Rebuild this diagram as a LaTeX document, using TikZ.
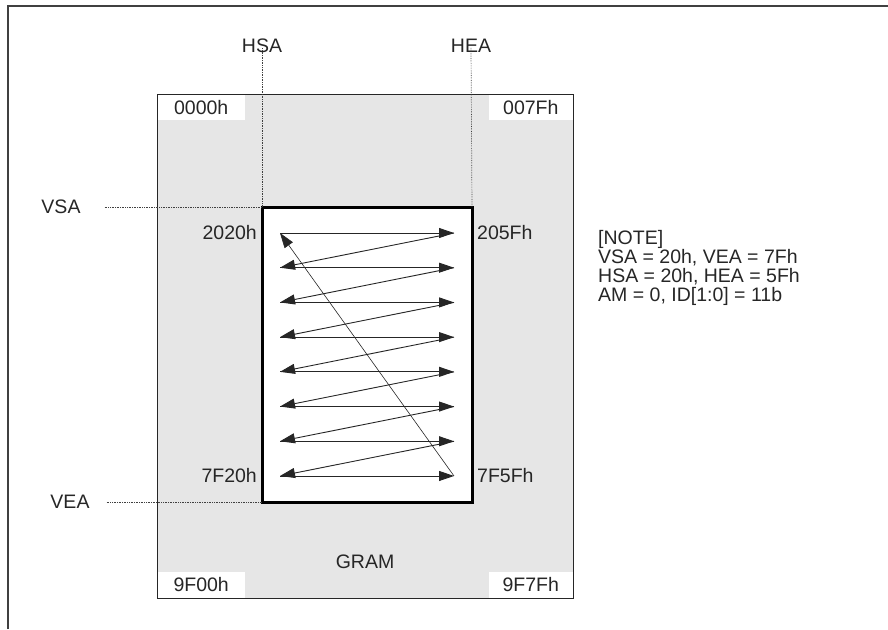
\documentclass[tikz,border=0pt]{standalone}
\usepackage{fontspec}
\setmainfont{Liberation Sans}
\usetikzlibrary{arrows.meta,positioning,calc}
\definecolor{gramgray}{RGB}{230,230,230}
\definecolor{ink}{RGB}{38,38,38}
\tikzset{
  lbl/.style   ={inner sep=0pt,text=ink,font=\fontsize{19.5}{19}\selectfont},
  corner/.style={lbl,fill=white,minimum height=26pt},
  guide/.style ={black!75,densely dotted,line width=0.7pt},
  ar/.style    ={-{Triangle[length=15pt,width=10pt]},line width=0.9pt,black!85},
}

\begin{document}
\begin{tikzpicture}[x=1pt,y=-1pt]
  \useasboundingbox (0,0) rectangle (888,629);
  \draw[line width=1.6pt,black!75] (8,629) -- (8,6) -- (888,6);
  % GRAM area
  \node[fill=gramgray,minimum width=416pt,minimum height=504pt,inner sep=0pt,outer sep=0pt,anchor=north west] (gram) at (157,94) {};
  \node[corner,minimum width=88pt,anchor=north west] (c0000) at (gram.north west) {0000h};
  \node[corner,minimum width=84pt,anchor=north east] (c007f) at (gram.north east) {007Fh};
  \node[corner,minimum width=88pt,anchor=south west] (c9f00) at (gram.south west) {9F00h};
  \node[corner,minimum width=84pt,anchor=south east] (c9f7f) at (gram.south east) {9F7Fh};
  \draw[line width=1pt,black!85] (gram.north west) rectangle (gram.south east);
  \node[lbl] (glbl) at (365,562) {GRAM};
  % window
  \node[draw,line width=3pt,fill=white,minimum width=210pt,minimum height=295pt,inner sep=0pt,outer sep=0pt,anchor=north west] (win) at (262,207) {};
  \node[lbl] (hsa) at (262,46) {HSA};
  \node[lbl] (hea) at (471,46) {HEA};
  \node[lbl] (vsa) at (61,207) {VSA};
  \node[lbl] (vea) at (70,502) {VEA};
  \draw[guide] ([yshift=5pt]hsa.south) -- (win.north west);
  \draw[guide] ([yshift=5pt]hea.south) -- (win.north east);
  \draw[guide] ([xshift=24pt]vsa.east) -- (win.north west);
  \draw[guide] ([xshift=17pt]vea.east) -- (win.south west);
  % scan rows
  \foreach \i in {1,...,8}{
    \pgfmathsetmacro\yy{233+(\i-1)*34.71}
    \coordinate (l\i) at (280,\yy);
    \coordinate (r\i) at (454,\yy);
  }
  \foreach \i in {1,...,8} \draw[ar] (l\i) -- (r\i);
  \foreach \i/\j in {1/2,2/3,3/4,4/5,5/6,6/7,7/8} \draw[ar] (r\i) -- (l\j);
  \draw[ar,line width=0.6pt] (r8) -- (l1);
  % addresses
  \node[lbl,anchor=east] (a2020) at ([xshift=-5pt]win.west |- l1) {2020h};
  \node[lbl,anchor=west] (a205f) at ([xshift=5pt]win.east |- r1) {205Fh};
  \node[lbl,anchor=east] (a7f20) at ([xshift=-5pt]win.west |- l8) {7F20h};
  \node[lbl,anchor=west] (a7f5f) at ([xshift=5pt]win.east |- r8) {7F5Fh};
  % note
  \node[lbl,align=left,anchor=north west] (note) at (598,230)
    {[NOTE]\\VSA = 20h, VEA = 7Fh\\HSA = 20h, HEA = 5Fh\\AM = 0, ID[1:0] = 11b};
\end{tikzpicture}
\end{document}
